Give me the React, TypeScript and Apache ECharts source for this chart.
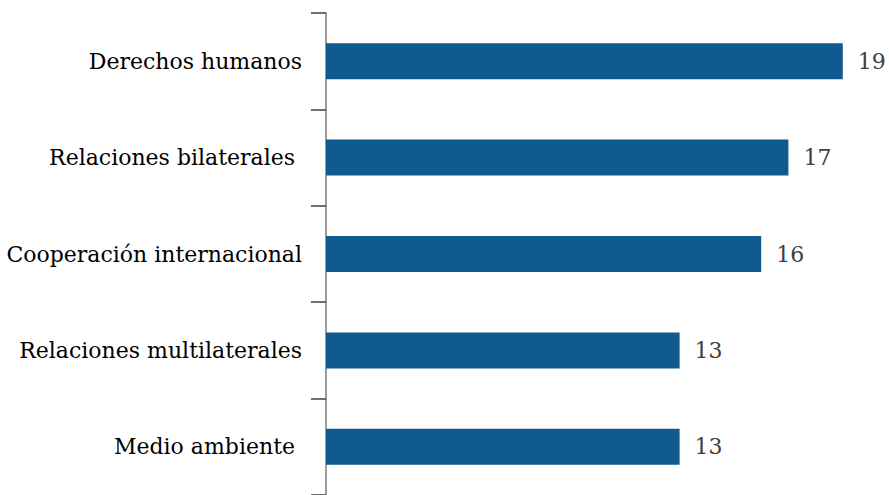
import React, { useEffect, useRef } from "react";
import * as echarts from "echarts";

const categories = [
  "Medio ambiente ",
  "Relaciones multilaterales",
  "Cooperación internacional",
  "Relaciones bilaterales ",
  "Derechos humanos",
];
const values = [13, 13, 16, 17, 19];

const FONT = "DejaVu Serif";

export default function App() {
  const ref = useRef<HTMLDivElement>(null);
  useEffect(() => {
    if (!ref.current) return;
    const chart = echarts.init(ref.current, null, { renderer: "svg" });
    chart.setOption({
      animation: false,
      backgroundColor: "#ffffff",
      textStyle: { fontFamily: FONT },
      grid: { left: 326, top: 13, width: 544, height: 487, containLabel: false },
      xAxis: {
        type: "value",
        min: 0,
        max: 20,
        show: false,
      },
      yAxis: {
        type: "category",
        data: categories,
        axisLine: { show: true, lineStyle: { color: "#7a7a7a", width: 1.5 } },
        axisTick: { show: true, length: 15, lineStyle: { color: "#404040", width: 1.5 } },
        axisLabel: {
          margin: 24,
          color: "#000000",
          fontFamily: FONT,
          fontSize: 22,
        },
        splitLine: { show: false },
      },
      series: [
        {
          type: "bar",
          data: values,
          barWidth: 36,
          itemStyle: { color: "#115a8f" },
          label: {
            show: true,
            position: "right",
            distance: 15,
            color: "#404040",
            fontFamily: FONT,
            fontSize: 22,
          },
        },
      ],
    });
    return () => chart.dispose();
  }, []);
  return (
    <div
      ref={ref}
      style={{ position: "fixed", left: 0, top: 0, width: 889, height: 495, background: "#fff" }}
    />
  );
}
